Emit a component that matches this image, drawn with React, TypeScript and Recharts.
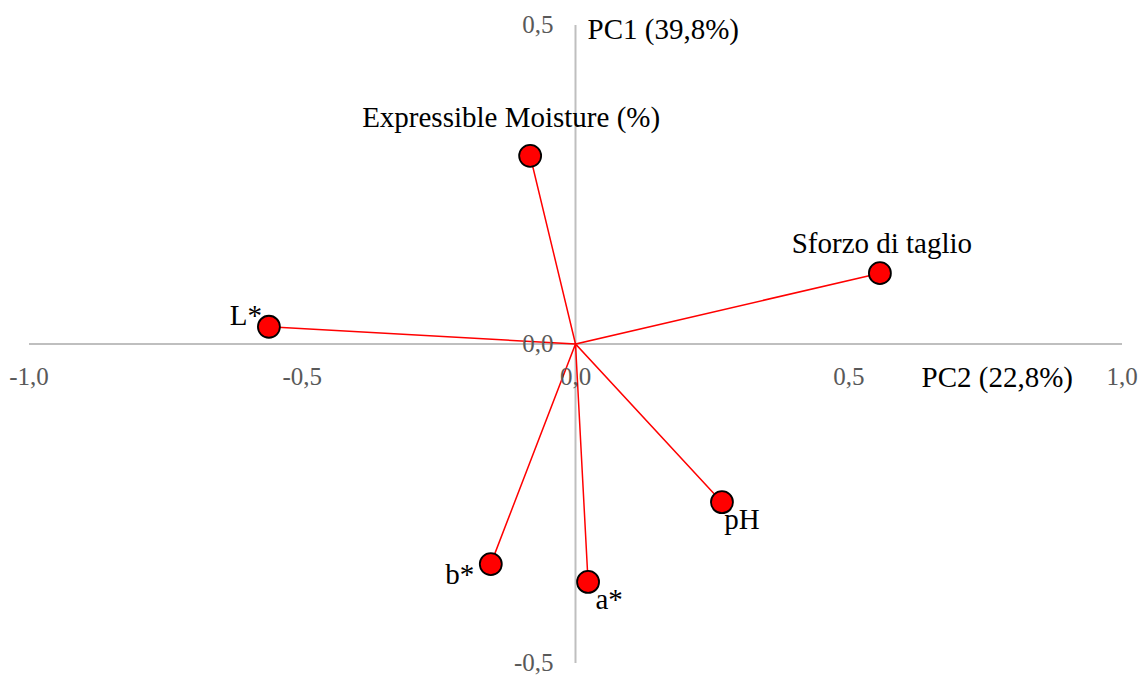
import React from 'react';
import { ScatterChart, Scatter, XAxis, YAxis, ReferenceLine } from 'recharts';

const variables = ['Expressible Moisture (%)', 'Sforzo di taglio', 'L*', 'pH', 'b*', 'a*'];
const pc2Values = [-0.083, 0.557, -0.561, 0.268, -0.155, 0.023];
const pc1Values = [0.295, 0.111, 0.027, -0.248, -0.345, -0.373];
const xTicks = [-1, -0.5, 0, 0.5, 1];
const yTicks = [-0.5, 0, 0.5];

// label placement relative to the marker centre
const labelPos: Record<string, { dx: number; dy: number; anchor: string }> = {
  'Expressible Moisture (%)': { dx: -19, dy: -29, anchor: 'middle' },
  'Sforzo di taglio': { dx: 2, dy: -20, anchor: 'middle' },
  'L*': { dx: -23, dy: -2, anchor: 'middle' },
  pH: { dx: 20, dy: 27, anchor: 'middle' },
  'b*': { dx: -31, dy: 20, anchor: 'middle' },
  'a*': { dx: 21, dy: 27, anchor: 'middle' },
};

const W = 1140;
const H = 675;
const PLOT_LEFT = 29;
const PLOT_RIGHT = 18;
const PLOT_TOP = 25;
const PLOT_BOTTOM = 12;
const margin = { top: PLOT_TOP, right: PLOT_RIGHT, bottom: 0, left: 0 };
const ZERO_X = PLOT_LEFT + (W - PLOT_LEFT - PLOT_RIGHT) / 2;
const ZERO_Y = PLOT_TOP + (H - PLOT_TOP - PLOT_BOTTOM) / 2;

const points = variables.map((name, i) => ({ name, x: pc2Values[i], y: pc1Values[i] }));
const spokes = points.flatMap((p) => [{ x: 0, y: 0 }, { x: p.x, y: p.y }]);

const fmt = (v: number) => v.toFixed(1).replace('.', ',');
const serif = '"Liberation Serif", "Times New Roman", serif';

const XTick = (props: any) => (
  <text x={props.x} y={ZERO_Y + 41} textAnchor="middle" fill="#595959" fontSize={25} fontFamily={serif}>
    {fmt(props.payload.value)}
  </text>
);

const YTick = (props: any) => (
  <text x={ZERO_X - 22} y={props.y} dy={8} textAnchor="end" fill="#595959" fontSize={25} fontFamily={serif}>
    {fmt(props.payload.value)}
  </text>
);

const Dot = (props: any) => {
  const pos = labelPos[props.payload.name];
  return (
    <g>
      <circle cx={props.cx} cy={props.cy} r={11} fill="#ff0000" stroke="#000" strokeWidth={1.8} />
      <text
        x={props.cx + pos.dx}
        y={props.cy + pos.dy}
        textAnchor={pos.anchor as any}
        fill="#000"
        fontSize={29}
        fontFamily={serif}
      >
        {props.payload.name}
      </text>
    </g>
  );
};

const PC1Label = (props: any) => (
  <text x={props.viewBox.x + 12} y={props.viewBox.y + 14} fill="#000" fontSize={29} fontFamily={serif}>
    PC1 (39,8%)
  </text>
);

const PC2Label = (props: any) => (
  <text
    x={props.viewBox.x + props.viewBox.width - 49}
    y={props.viewBox.y + 43}
    textAnchor="end"
    fill="#000"
    fontSize={29}
    fontFamily={serif}
  >
    PC2 (22,8%)
  </text>
);

export default function App() {
  return (
    <div style={{ position: 'absolute', left: 0, top: 0, width: W, height: H, background: '#fff' }}>
      <ScatterChart width={W} height={H} margin={margin}>
        <XAxis
          type="number"
          dataKey="x"
          domain={[-1, 1]}
          ticks={xTicks}
          interval={0}
          height={PLOT_BOTTOM}
          axisLine={false}
          tickLine={false}
          tick={<XTick />}
          allowDataOverflow
        />
        <YAxis
          type="number"
          dataKey="y"
          domain={[-0.5, 0.5]}
          ticks={yTicks}
          interval={0}
          width={PLOT_LEFT}
          axisLine={false}
          tickLine={false}
          tick={<YTick />}
          allowDataOverflow
        />
        <ReferenceLine y={0} stroke="#bfbfbf" strokeWidth={2} label={<PC2Label />} />
        <ReferenceLine x={0} stroke="#bfbfbf" strokeWidth={2} label={<PC1Label />} />
        <Scatter
          data={spokes}
          line={{ stroke: '#ff0000', strokeWidth: 1.5 }}
          shape={() => <g />}
          isAnimationActive={false}
        />
        <Scatter data={points} shape={<Dot />} isAnimationActive={false} />
      </ScatterChart>
    </div>
  );
}
